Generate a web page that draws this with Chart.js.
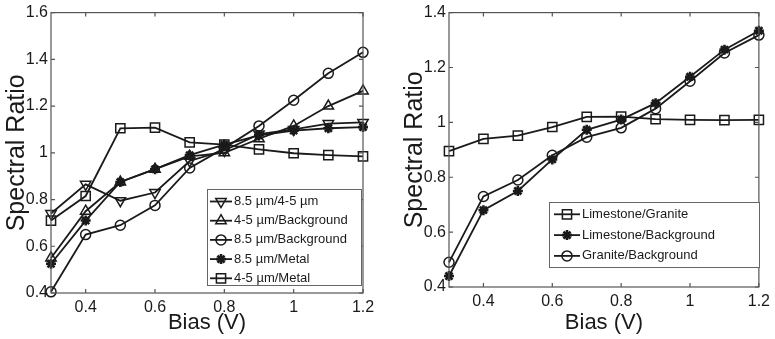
<!DOCTYPE html>
<html>
<head>
<meta charset="utf-8">
<script src="https://cdn.jsdelivr.net/npm/chart.js@4.4.1/dist/chart.umd.min.js"></script>
<style>
  html, body { margin: 0; padding: 0; background: #fff; }
  #wrap { position: relative; width: 775px; height: 339px; overflow: hidden; }
  canvas { position: absolute; top: 0; }
  #leftChart { left: 0; }
  #rightChart { left: 390px; }
</style>
</head>
<body>
<div id="wrap">
  <canvas id="leftChart" width="390" height="339"></canvas>
  <canvas id="rightChart" width="385" height="339"></canvas>
</div>
<script>
// bias points (V), shared by both panels
const bias = [0.3, 0.4, 0.5, 0.6, 0.7, 0.8, 0.9, 1.0, 1.1, 1.2];
const xTicks = [0.4, 0.6, 0.8, 1, 1.2];
const yTicksLeft = [0.4, 0.6, 0.8, 1, 1.2, 1.4, 1.6];
const yTicksRight = [0.4, 0.6, 0.8, 1, 1.2, 1.4];

// left panel series
const leftLabels = ['8.5 µm/4-5 µm', '4-5 µm/Background', '8.5 µm/Background', '8.5 µm/Metal', '4-5 µm/Metal'];
const r85over45 = [0.74, 0.865, 0.795, 0.83, 0.965, 1.01, 1.08, 1.10, 1.125, 1.13];
const r45overBg = [0.55, 0.75, 0.875, 0.93, 0.985, 1.0, 1.06, 1.115, 1.2, 1.265];
const r85overBg = [0.405, 0.65, 0.69, 0.775, 0.935, 1.02, 1.115, 1.225, 1.34, 1.43];
const r85overMetal = [0.525, 0.71, 0.875, 0.93, 0.99, 1.035, 1.075, 1.095, 1.105, 1.11];
const r45overMetal = [0.71, 0.815, 1.105, 1.108, 1.045, 1.035, 1.015, 0.998, 0.99, 0.985];

// right panel series
const rightLabels = ['Limestone/Granite', 'Limestone/Background', 'Granite/Background'];
const limeOverGranite = [0.895, 0.94, 0.952, 0.983, 1.02, 1.021, 1.012, 1.009, 1.008, 1.009];
const limeOverBg = [0.44, 0.68, 0.75, 0.865, 0.973, 1.01, 1.07, 1.166, 1.265, 1.334];
const graniteOverBg = [0.49, 0.73, 0.79, 0.88, 0.946, 0.98, 1.05, 1.15, 1.253, 1.318];

const FONT = '"Liberation Sans", Arial, Helvetica, sans-serif';
const INK = '#1a1a1a';

function toPoints(values) {
    return bias.map((b, i) => ({ x: b, y: values[i] }));
}

function series(label, values, style, radius, rotation) {
    return {
        label: label,
        data: toPoints(values),
        borderColor: INK,
        borderWidth: 1.8,
        pointStyle: style,
        pointRotation: rotation || 0,
        pointRadius: radius,
        pointBorderWidth: style === 'star' ? 2.6 : 1.5,
        pointBorderColor: INK,
        pointBackgroundColor: 'rgba(0,0,0,0)',
        tension: 0,
        clip: false
    };
}

/**
 * Box around the plot with inward tick marks on all four sides
 */
const matlabBox = {
    id: 'matlabBox',
    afterDatasetsDraw(chart) {
        const { ctx, chartArea: a, scales } = chart;
        ctx.save();
        ctx.strokeStyle = '#555';
        ctx.lineWidth = 1.2;
        ctx.strokeRect(a.left, a.top, a.right - a.left, a.bottom - a.top);
        ctx.beginPath();
        scales.x.ticks.forEach(t => {
            const px = scales.x.getPixelForValue(t.value);
            ctx.moveTo(px, a.bottom); ctx.lineTo(px, a.bottom - 4);
            ctx.moveTo(px, a.top); ctx.lineTo(px, a.top + 4);
        });
        scales.y.ticks.forEach(t => {
            const py = scales.y.getPixelForValue(t.value);
            ctx.moveTo(a.left, py); ctx.lineTo(a.left + 4, py);
            ctx.moveTo(a.right, py); ctx.lineTo(a.right - 4, py);
        });
        ctx.stroke();
        ctx.restore();
    }
};

/**
 * Boxed legend drawn inside the plot, line sample with marker
 */
const boxLegend = {
    id: 'boxLegend',
    afterDraw(chart, args, o) {
        const ctx = chart.ctx;
        ctx.save();
        ctx.fillStyle = '#fff';
        ctx.fillRect(o.x, o.y, o.w, o.h);
        ctx.strokeStyle = '#666';
        ctx.lineWidth = 1;
        ctx.strokeRect(o.x + 0.5, o.y + 0.5, o.w, o.h);
        ctx.font = o.fontSize + 'px ' + FONT;
        ctx.textBaseline = 'middle';
        ctx.textAlign = 'left';
        chart.data.datasets.forEach((ds, i) => {
            const y = o.y + o.first + i * o.gap;
            const x0 = o.x + o.lineX;
            ctx.strokeStyle = ds.borderColor;
            ctx.lineWidth = ds.borderWidth;
            ctx.beginPath();
            ctx.moveTo(x0, y);
            ctx.lineTo(x0 + o.lineW, y);
            ctx.stroke();
            ctx.lineWidth = ds.pointBorderWidth;
            ctx.fillStyle = 'rgba(0,0,0,0)';
            Chart.helpers.drawPoint(ctx, {
                pointStyle: ds.pointStyle,
                rotation: ds.pointRotation,
                radius: ds.pointRadius,
                borderWidth: ds.pointBorderWidth
            }, x0 + o.lineW / 2, y);
            ctx.fillStyle = INK;
            ctx.fillText(ds.label, x0 + o.lineW + 2, y);
        });
        ctx.restore();
    }
};

function makeChart(id, datasets, yMax, yTicks, axisW, padRight, legendOpts, yTitlePad) {
    return new Chart(document.getElementById(id), {
        type: 'line',
        data: { datasets: datasets },
        plugins: [matlabBox, boxLegend],
        options: {
            responsive: false,
            animation: false,
            devicePixelRatio: 1,
            layout: { padding: { left: 0, right: padRight, top: 10, bottom: 0 } },
            plugins: {
                legend: { display: false },
                tooltip: { enabled: false },
                boxLegend: legendOpts
            },
            scales: {
                x: {
                    type: 'linear',
                    min: 0.3,
                    max: 1.2,
                    afterBuildTicks: s => { s.ticks = xTicks.map(v => ({ value: v })); },
                    afterFit: s => { s.height = 339 - 10 - (legendOpts.plotH); },
                    grid: { display: false, drawTicks: false },
                    border: { display: false },
                    ticks: {
                        autoSkip: false, maxRotation: 0, padding: 5, color: INK,
                        font: { size: 16, family: FONT },
                        callback: v => String(v)
                    },
                    title: {
                        display: true, text: 'Bias (V)', color: INK,
                        font: { size: 22, family: FONT },
                        padding: { top: 0, bottom: 3 }
                    }
                },
                y: {
                    type: 'linear',
                    min: 0.4,
                    max: yMax,
                    afterBuildTicks: s => { s.ticks = yTicks.map(v => ({ value: v })); },
                    afterFit: s => { s.width = axisW; },
                    grid: { display: false, drawTicks: false },
                    border: { display: false },
                    ticks: {
                        autoSkip: false, padding: 3, color: INK,
                        font: { size: 16, family: FONT },
                        callback: v => String(v)
                    },
                    title: {
                        display: true, text: 'Spectral Ratio', color: INK,
                        font: { size: 25, family: FONT },
                        padding: { top: yTitlePad, bottom: 0 }
                    }
                }
            }
        }
    });
}

makeChart('leftChart', [
    series(leftLabels[0], r85over45, 'triangle', 6, 180),
    series(leftLabels[1], r45overBg, 'triangle', 6, 0),
    series(leftLabels[2], r85overBg, 'circle', 5, 0),
    series(leftLabels[3], r85overMetal, 'star', 5, 0),
    series(leftLabels[4], r45overMetal, 'rect', 6.5, 0)
], 1.6, yTicksLeft, 51, 27,
    { x: 207, y: 189, w: 154, h: 96, first: 12.5, gap: 19.2, lineX: 3, lineW: 22, fontSize: 13, plotH: 283 }, 2);

makeChart('rightChart', [
    series(rightLabels[0], limeOverGranite, 'rect', 6.5, 0),
    series(rightLabels[1], limeOverBg, 'star', 5, 0),
    series(rightLabels[2], graniteOverBg, 'circle', 5, 0)
], 1.4, yTicksRight, 59, 11,
    { x: 159, y: 202, w: 210, h: 65, first: 12.3, gap: 20.8, lineX: 5, lineW: 26, fontSize: 13, plotH: 277 }, 10);
</script>
</body>
</html>
